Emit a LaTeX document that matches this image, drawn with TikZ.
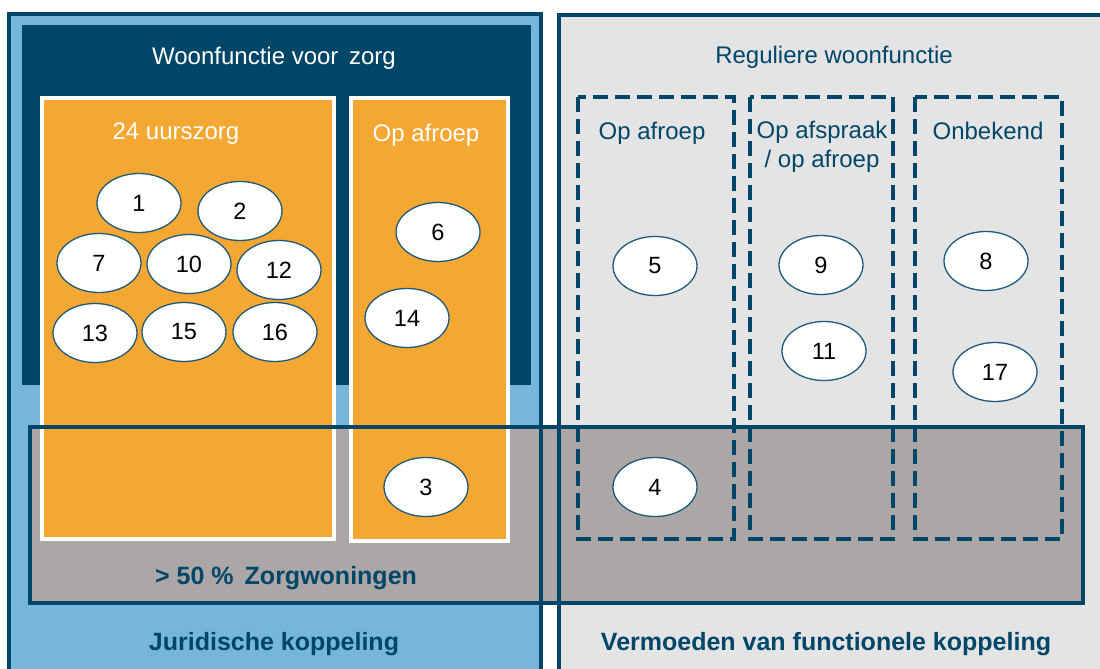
\documentclass[tikz,border=0pt]{standalone}
\usepackage{fontspec}
\setmainfont{Liberation Sans}
\usetikzlibrary{shapes.geometric}
\definecolor{dkblue}{RGB}{0,70,104}
\definecolor{ltblue}{RGB}{118,182,218}
\definecolor{orng}{RGB}{245,167,51}
\definecolor{bandgrey}{RGB}{171,167,166}
\definecolor{bggrey}{RGB}{228,228,228}
\definecolor{ellline}{RGB}{30,90,120}
\tikzset{
  num/.style={ellipse, draw=ellline, line width=1.3pt, fill=white, minimum width=84pt, minimum height=59pt, inner sep=0pt, font=\fontsize{23.5}{26}\selectfont, text=black},
  outline/.style={draw=dkblue, line width=4.5pt},
  orangebox/.style={fill=orng, draw=white, line width=4pt},
  dashbox/.style={draw=dkblue, line width=4pt, dash pattern=on 15pt off 7pt},
  wtext/.style={text=white, font=\fontsize{24}{28}\selectfont},
  dtext/.style={text=dkblue, font=\fontsize{24}{28}\selectfont},
  btext/.style={text=dkblue, font=\fontsize{25}{28}\selectfont\bfseries},
}
\begin{document}
\begin{tikzpicture}[x=1pt,y=-1pt]
\useasboundingbox (0,0) rectangle (1100,669);
\clip (0,0) rectangle (1100,669);
\fill[white] (0,0) rectangle (1100,669);
% fills
\fill[ltblue] (9,14) rectangle (541,700);
\fill[bggrey] (559,15) rectangle (1120,700);
\fill[bandgrey] (30,427) rectangle (1083,603);
\fill[dkblue] (22,25) rectangle (531,385);
\draw[orangebox] (42,98) rectangle (334,539);
\draw[orangebox] (351,98) rectangle (508,541);
% outlines
\draw[outline] (9,14) rectangle (541,700);
\draw[outline] (559,15) rectangle (1120,700);
\draw[outline] (30,427) rectangle (1083,603);
% dashed boxes
\draw[dashbox] (578,97) rectangle (734,539);
\draw[dashbox] (750,97) rectangle (893,539);
\draw[dashbox] (915,97) rectangle (1062,539);
% texts
\node[wtext] (tzorg) at (274,58) {Woonfunctie voor\, zorg};
\node[wtext] (t24) at (176,134) {24 uurszorg};
\node[wtext] (taf1) at (426,135) {Op afroep};
\node[dtext] (treg) at (834,57) {Reguliere woonfunctie};
\node[dtext] (taf2) at (652,133) {Op afroep};
\node[dtext, align=center, font=\fontsize{24}{29}\selectfont] (tafs) at (822,147) {Op afspraak\\/ op afroep};
\node[dtext] (tonb) at (988,131) {Onbekend};
\node[btext] (tzw) at (286,578) {> 50 \%\, Zorgwoningen};
\node[btext] (tjur) at (274,644) {Juridische koppeling};
\node[btext] (tverm) at (826,644) {Vermoeden van functionele koppeling};
% ellipses
\node[num] (e1) at (139,203) {1};
\node[num] (e2) at (240,211) {2};
\node[num] (e7) at (99,263) {7};
\node[num] (e10) at (189,264) {10};
\node[num] (e12) at (279,270) {12};
\node[num] (e13) at (95,333) {13};
\node[num] (e15) at (184,332) {15};
\node[num] (e16) at (275,332) {16};
\node[num] (e6) at (438,232) {6};
\node[num] (e14) at (407,318) {14};
\node[num] (e3) at (426,487) {3};
\node[num] (e5) at (655,266) {5};
\node[num] (e9) at (821,265) {9};
\node[num] (e11) at (824,351) {11};
\node[num] (e8) at (986,261) {8};
\node[num] (e17) at (995,372) {17};
\node[num] (e4) at (655,487) {4};
\end{tikzpicture}
\end{document}
